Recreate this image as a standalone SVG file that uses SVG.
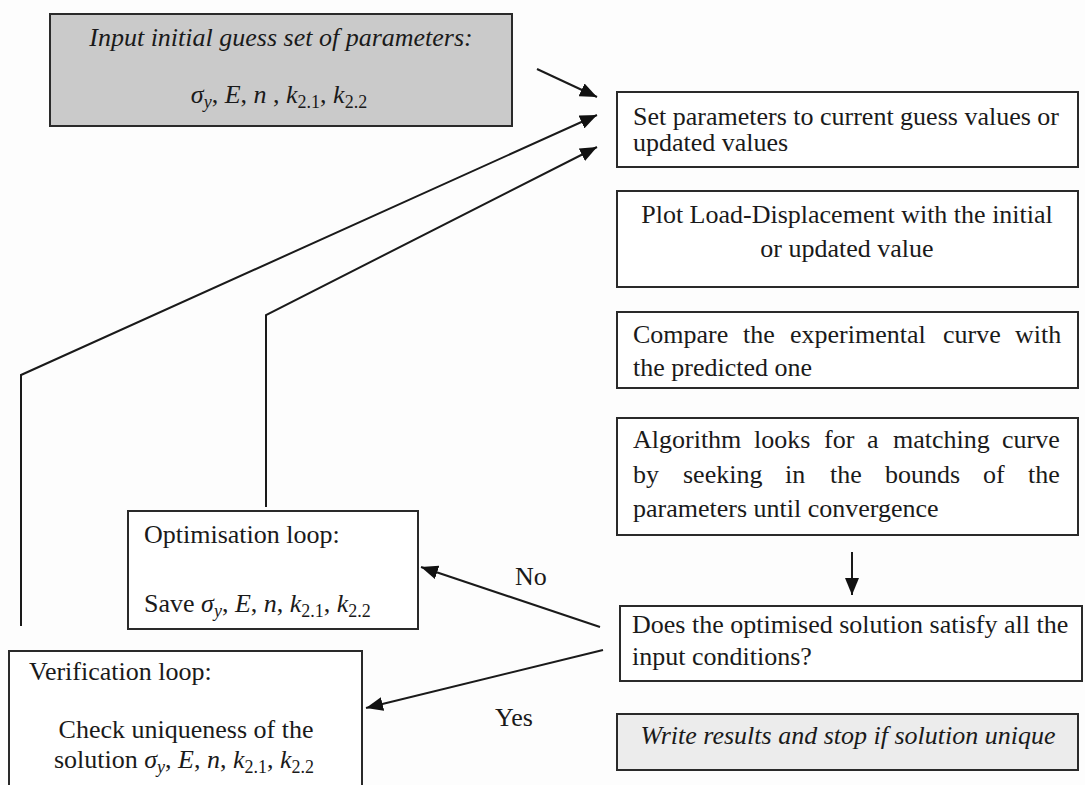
<svg xmlns="http://www.w3.org/2000/svg" width="1085" height="785" viewBox="0 0 1085 785">
<defs>
<marker id="ah" markerUnits="userSpaceOnUse" markerWidth="18" markerHeight="14" refX="17" refY="7" orient="auto">
<path d="M0,0 L17,7 L0,14 z" fill="#111"/>
</marker>
<style>
.box{fill:#fff;stroke:#2a2a2a;stroke-width:2}
.gray{fill:#cacaca;stroke:#2a2a2a;stroke-width:2}
.lgray{fill:#ececec;stroke:#2a2a2a;stroke-width:2}
.t{font-family:"Liberation Serif","Times New Roman",serif;font-size:26px;fill:#1a1a1a}
.i{font-style:italic}
.sub{font-size:18px}
.c{fill:none;stroke:#1a1a1a;stroke-width:2}
.arr{marker-end:url(#ah)}
</style>
</defs>
<rect width="1085" height="785" fill="#fdfdfd"/>

<g id="connectors">
<path class="c arr" d="M537,69 L597,97"/>
<path class="c arr" d="M21,626 L21,375 L597,115"/>
<path class="c arr" d="M266,507 L266,315 L597,147"/>
<path class="c arr" d="M852,552 L852,595"/>
<path class="c arr" d="M600,627 L421,567"/>
<path class="c arr" d="M603,650 L366,708"/>
<text class="t" x="515" y="585">No</text>
<text class="t" x="495" y="726">Yes</text>
</g>

<g id="input">
<rect class="gray" x="50" y="14" width="462" height="112"/>
<text class="t i" x="281" y="46" text-anchor="middle">Input initial guess set of parameters:</text>
<text class="t" x="279" y="103" text-anchor="middle"><tspan class="i">σ</tspan><tspan class="sub i" dy="5">y</tspan><tspan dy="-5">, </tspan><tspan class="i">E</tspan><tspan>, </tspan><tspan class="i">n</tspan><tspan> , </tspan><tspan class="i">k</tspan><tspan class="sub" dy="5">2.1</tspan><tspan dy="-5">, </tspan><tspan class="i">k</tspan><tspan class="sub" dy="5">2.2</tspan></text>
</g>

<g id="setparams">
<rect class="box" x="617" y="92" width="461" height="75"/>
<text class="t" x="633" y="125">Set parameters to current guess values or</text>
<text class="t" x="633" y="151">updated values</text>
</g>

<g id="plot">
<rect class="box" x="617" y="191" width="461" height="96"/>
<text class="t" x="847" y="223" text-anchor="middle">Plot Load-Displacement with the initial</text>
<text class="t" x="847" y="257" text-anchor="middle">or updated value</text>
</g>

<g id="compare">
<rect class="box" x="617" y="312" width="461" height="76"/>
<text class="t" y="343"><tspan x="633">Compare</tspan><tspan x="743">the</tspan><tspan x="790">experimental</tspan><tspan x="943">curve</tspan><tspan x="1015">with</tspan></text>
<text class="t" x="633" y="376">the predicted one</text>
</g>

<g id="algorithm">
<rect class="box" x="617" y="418" width="461" height="117"/>
<text class="t" y="448"><tspan x="633">Algorithm</tspan><tspan x="754">looks</tspan><tspan x="824">for</tspan><tspan x="867">a</tspan><tspan x="893">matching</tspan><tspan x="1002">curve</tspan></text>
<text class="t" y="483"><tspan x="633">by</tspan><tspan x="683">seeking</tspan><tspan x="785">in</tspan><tspan x="830">the</tspan><tspan x="885">bounds</tspan><tspan x="983">of</tspan><tspan x="1028">the</tspan></text>
<text class="t" x="633" y="517">parameters until convergence</text>
</g>

<g id="decision">
<rect class="box" x="620" y="606" width="462" height="75"/>
<text class="t" x="632" y="633">Does the optimised solution satisfy all the</text>
<text class="t" x="632" y="665">input conditions?</text>
</g>

<g id="write">
<rect class="lgray" x="617" y="714" width="461" height="56"/>
<text class="t i" x="848" y="744" text-anchor="middle">Write results and stop if solution unique</text>
</g>

<g id="optimisation">
<rect class="box" x="128" y="511" width="290" height="118"/>
<text class="t" x="144" y="543">Optimisation loop:</text>
<text class="t" x="144" y="612">Save <tspan class="i">σ</tspan><tspan class="sub i" dy="5">y</tspan><tspan dy="-5">, </tspan><tspan class="i">E</tspan><tspan>, </tspan><tspan class="i">n</tspan><tspan>, </tspan><tspan class="i">k</tspan><tspan class="sub" dy="5">2.1</tspan><tspan dy="-5">, </tspan><tspan class="i">k</tspan><tspan class="sub" dy="5">2.2</tspan></text>
</g>

<g id="verification">
<rect class="box" x="9" y="651" width="353" height="150"/>
<text class="t" x="29" y="680">Verification loop:</text>
<text class="t" x="186" y="738" text-anchor="middle">Check uniqueness of the</text>
<text class="t" x="184" y="768" text-anchor="middle">solution <tspan class="i">σ</tspan><tspan class="sub i" dy="5">y</tspan><tspan dy="-5">, </tspan><tspan class="i">E</tspan><tspan>, </tspan><tspan class="i">n</tspan><tspan>, </tspan><tspan class="i">k</tspan><tspan class="sub" dy="5">2.1</tspan><tspan dy="-5">, </tspan><tspan class="i">k</tspan><tspan class="sub" dy="5">2.2</tspan></text>
</g>
</svg>
